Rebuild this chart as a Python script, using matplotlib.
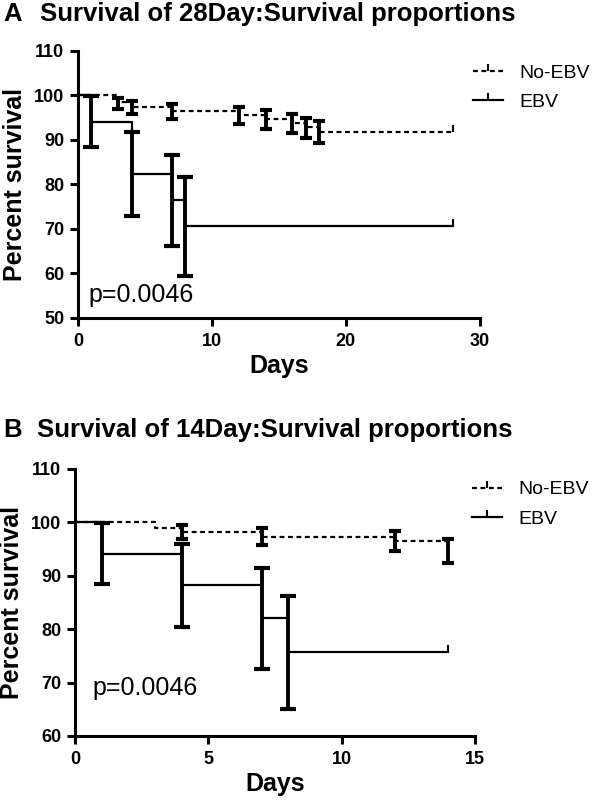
import matplotlib
matplotlib.use('Agg')
import matplotlib.pyplot as plt

plt.rcParams['font.family'] = ['Liberation Sans', 'DejaVu Sans']

# ---- data, panel A (28 days) ----
a_noebv_t = [0, 3, 4, 7, 12, 14, 16, 17, 18, 28]
a_noebv_s = [100, 98.6, 97.3, 96.4, 95.5, 94.6, 93.7, 92.8, 91.8, 91.8]
a_noebv_bar_t = [3, 4, 7, 12, 14, 16, 17, 18]
a_noebv_bar_s = [98.6, 97.3, 96.4, 95.5, 94.6, 93.7, 92.8, 91.8]
a_noebv_lo = [97.0, 95.7, 94.6, 93.5, 92.4, 91.5, 90.5, 89.4]
a_noebv_hi = [99.5, 98.8, 98.1, 97.4, 96.7, 95.9, 95.0, 94.2]

a_ebv_t = [0, 1, 4, 7, 8, 28]
a_ebv_s = [100, 94.1, 82.4, 76.5, 70.6, 70.6]
a_ebv_bar_t = [1, 4, 7, 8]
a_ebv_bar_s = [94.1, 82.4, 76.5, 70.6]
a_ebv_lo = [88.3, 73.0, 66.2, 59.5]
a_ebv_hi = [99.8, 91.7, 86.7, 81.6]

# ---- data, panel B (14 days) ----
b_noebv_t = [0, 3, 4, 7, 12, 14]
b_noebv_s = [100, 99.0, 98.2, 97.3, 96.4, 94.6]
b_noebv_bar_t = [4, 7, 12, 14]
b_noebv_bar_s = [98.2, 97.3, 96.4, 94.6]
b_noebv_lo = [96.9, 95.8, 94.6, 92.4]
b_noebv_hi = [99.4, 98.9, 98.3, 96.9]

b_ebv_t = [0, 1, 4, 7, 8, 14]
b_ebv_s = [100, 94.1, 88.2, 82.0, 75.7, 75.7]
b_ebv_bar_t = [1, 4, 7, 8]
b_ebv_bar_s = [94.1, 88.2, 82.0, 75.7]
b_ebv_lo = [88.4, 80.4, 72.5, 65.0]
b_ebv_hi = [99.8, 96.0, 91.4, 86.2]

fig = plt.figure(figsize=(5.97, 8.0), dpi=100)
axA = fig.add_axes([0.1307, 0.6025, 0.673, 0.334])
axB = fig.add_axes([0.1256, 0.08, 0.670, 0.334])


def draw_panel(ax, nt, ns, nbt, nbs, nlo, nhi, et, es, ebt, ebs, elo, ehi):
    # No-EBV: dashed step curve
    ax.step(nt, ns, where='post', color='black', lw=1.6, ls=(0, (2.2, 1.6)),
            marker=2, markevery=[len(nt) - 1], ms=5, mew=1.5, label='No-EBV')
    yerr = [[s - l for s, l in zip(nbs, nlo)], [h - s for s, h in zip(nbs, nhi)]]
    ax.errorbar(nbt, nbs, yerr=yerr, fmt='none', ecolor='black', elinewidth=2.8,
                capsize=4.5, capthick=3)
    # EBV: solid step curve
    ax.step(et, es, where='post', color='black', lw=1.6,
            marker=2, markevery=[len(et) - 1], ms=5, mew=1.5, label='EBV')
    yerr = [[s - l for s, l in zip(ebs, elo)], [h - s for s, h in zip(ebs, ehi)]]
    ax.errorbar(ebt, ebs, yerr=yerr, fmt='none', ecolor='black', elinewidth=2.8,
                capsize=5.5, capthick=3)
    for side in ['top', 'right']:
        ax.spines[side].set_visible(False)
    for side in ['left', 'bottom']:
        ax.spines[side].set_linewidth(2.2)
    ax.tick_params(axis='both', width=2.2, length=6, labelsize=13, pad=4)
    ax.tick_params(axis='x', pad=5)
    ax.set_xlabel('Days', fontsize=18, fontweight='bold', labelpad=3)
    ax.set_ylabel('Percent survival', fontsize=18, fontweight='bold', labelpad=5)


draw_panel(axA, a_noebv_t, a_noebv_s, a_noebv_bar_t, a_noebv_bar_s, a_noebv_lo, a_noebv_hi,
           a_ebv_t, a_ebv_s, a_ebv_bar_t, a_ebv_bar_s, a_ebv_lo, a_ebv_hi)
axA.set_xlim(0, 30)
axA.set_ylim(50, 110)
axA.set_xticks([0, 10, 20, 30])
axA.set_yticks([50, 60, 70, 80, 90, 100, 110])
for lab in axA.get_xticklabels() + axA.get_yticklabels():
    lab.set_fontweight('bold')
axA.text(0.025, 0.086, 'p=0.0046', transform=axA.transAxes, fontsize=18, va='center')
axA.legend(loc='upper left', bbox_to_anchor=(0.983, 0.95), frameon=False, fontsize=14,
           borderaxespad=0, borderpad=0, handlelength=1.55, handletextpad=0.85,
           labelspacing=0.6, numpoints=1)

draw_panel(axB, b_noebv_t, b_noebv_s, b_noebv_bar_t, b_noebv_bar_s, b_noebv_lo, b_noebv_hi,
           b_ebv_t, b_ebv_s, b_ebv_bar_t, b_ebv_bar_s, b_ebv_lo, b_ebv_hi)
axB.set_xlim(0, 15)
axB.set_ylim(60, 110)
axB.set_xticks([0, 5, 10, 15])
axB.set_yticks([60, 70, 80, 90, 100, 110])
for lab in axB.get_xticklabels() + axB.get_yticklabels():
    lab.set_fontweight('bold')
axB.text(0.043, 0.18, 'p=0.0046', transform=axB.transAxes, fontsize=18, va='center')
axB.legend(loc='upper left', bbox_to_anchor=(0.9925, 0.955), frameon=False, fontsize=14,
           borderaxespad=0, borderpad=0, handlelength=1.55, handletextpad=0.85,
           labelspacing=0.6, numpoints=1)

fig.text(0.005, 0.974, 'A', fontsize=18.5, fontweight='bold', va='baseline')
fig.text(0.067, 0.974, 'Survival of 28Day:Survival proportions', fontsize=18.5,
         fontweight='bold', va='baseline')
fig.text(0.005, 0.454, 'B', fontsize=18.5, fontweight='bold', va='baseline')
fig.text(0.062, 0.454, 'Survival of 14Day:Survival proportions', fontsize=18.5,
         fontweight='bold', va='baseline')

fig.savefig('out.png', dpi=100)
